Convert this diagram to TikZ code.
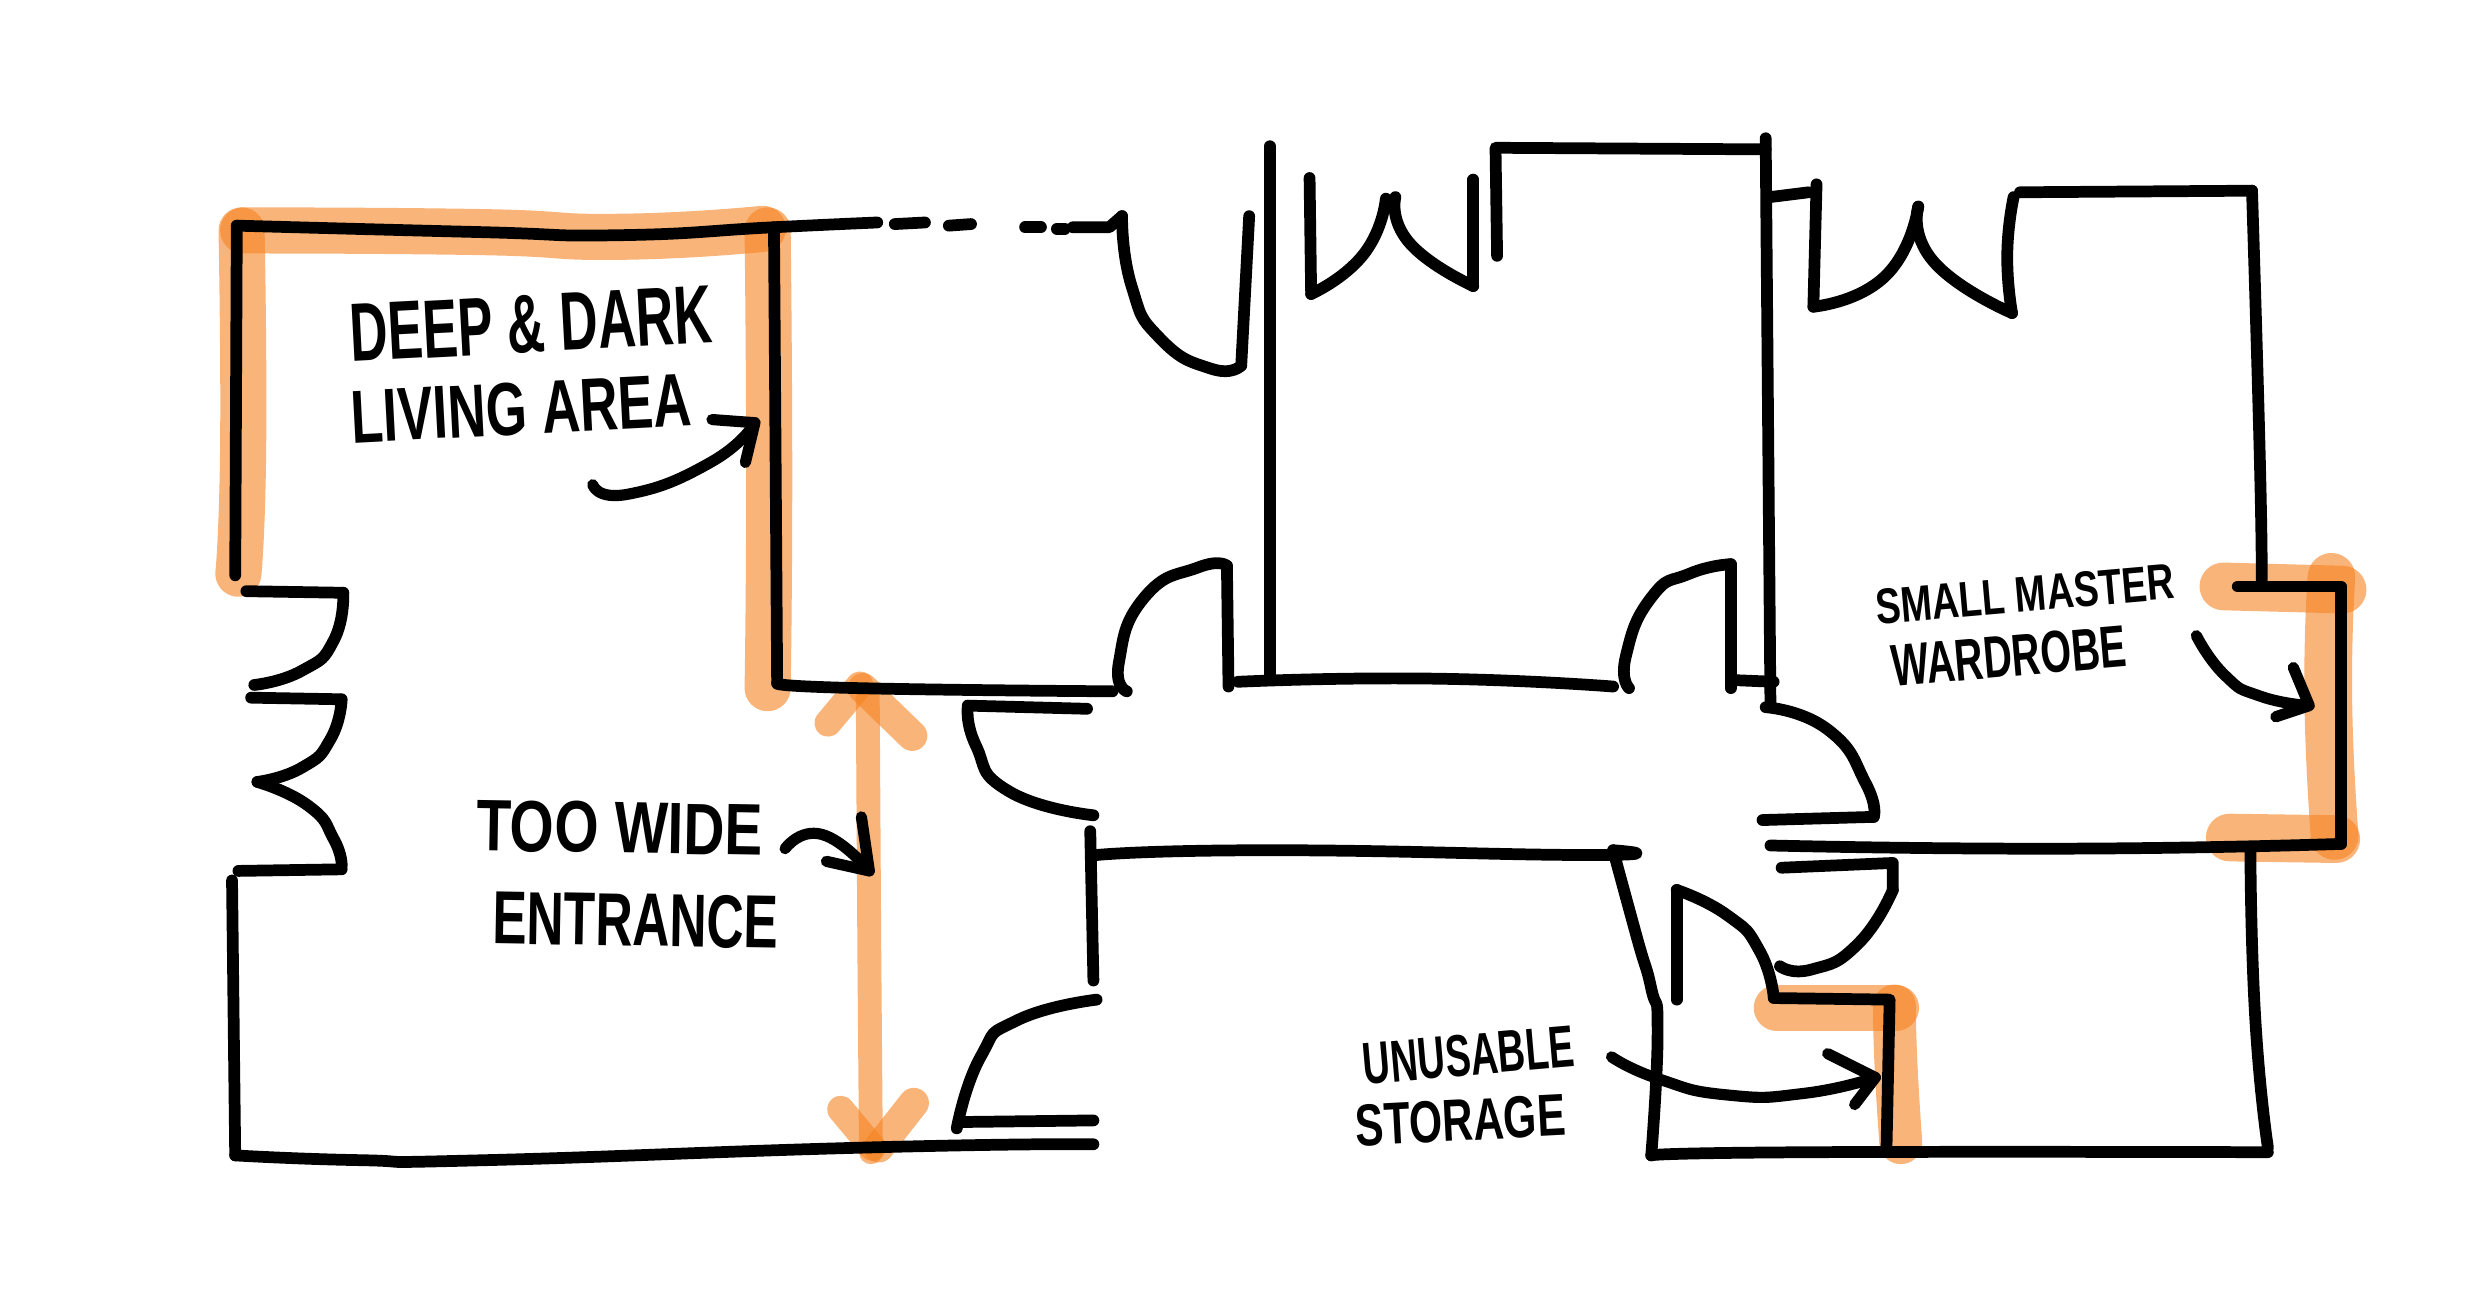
\documentclass[tikz,border=0pt]{standalone}
\usepackage{fontspec}
\usepackage{graphicx}
\setsansfont{Liberation Sans}
\definecolor{marker}{HTML}{F58220}
\newcommand{\scrawl}[3]{\resizebox{#1}{#2}{\sffamily\bfseries #3}}
\tikzset{
  wall/.style={line width=2.1pt,line cap=round,line join=round},
  pen/.style={line width=2pt,line cap=round,line join=round},
  hilite/.style={line width=.29cm,color=marker,opacity=.6,line cap=round,line join=round},
  thinhilite/.style={hilite,line width=.15cm},
  note/.style={inner sep=0pt},
}
\begin{document}
\begin{tikzpicture}[x=.01cm,y=-.01cm,tension=.95]
\useasboundingbox (0,0) rectangle (1568,825.5);
% marker strokes
\draw[hilite] plot[smooth] coordinates {(153,145) (300,146) (390,149) (480,144)};
\draw[hilite] plot[smooth] coordinates {(152,145) (153,280) (150,361)};
\draw[hilite] plot[smooth] coordinates {(483,145) (484,300) (483,433)};
\draw[hilite,line width=.3cm] (1399,369) -- (1474,371);
\draw[hilite,line width=.3cm] plot[smooth] coordinates {(1467,363) (1465,440) (1469,526)};
\draw[hilite,line width=.3cm] (1403,527) -- (1470,528);
\draw[hilite] (1118,634) -- (1193,634);
\draw[hilite,line width=.27cm] plot[smooth] coordinates {(1192,633) (1193,670) (1196,719)};
\draw[thinhilite] (546,437) -- (547,600) -- (548,725);
\draw[thinhilite,line width=.17cm] (521,455) -- (541,431);
\draw[thinhilite,line width=.19cm] (543,433) -- (574,463);
\draw[thinhilite,line width=.17cm] (529,698) -- (549,722);
\draw[thinhilite,line width=.19cm] (575,694) -- (553,722);
% left room and top wall
\draw[wall] (148,362) -- (149,142);
\draw[wall] plot[smooth] coordinates {(149,142) (300,146) (390,148) (487,143) (552,140)};
\draw[wall] (563,141) -- (582,140);
\draw[wall] (597,142) -- (611,141);
\draw[wall] (645,143) -- (655,143);
\draw[wall] (665,144) -- (670,144);
\draw[wall] (675,143) -- (698,143) -- (706,136);
\draw[wall] plot[smooth] coordinates {(706,136) (712,180) (730,213) (762,232) (781,230)};
\draw[wall] (781,230) -- (786,136);
\draw[wall] (487,143) -- (489,430);
\draw[wall] plot[smooth] coordinates {(489,430) (540,433) (700,435)};
% doors on the left side
\draw[wall] (155,372) -- (216,373);
\draw[wall] plot[smooth] coordinates {(216,373) (210,403) (190,422) (160,431)};
\draw[wall] (158,439) -- (214,440);
\draw[wall] plot[smooth] coordinates {(215,440) (208,465) (190,483) (162,492)};
\draw[wall] plot[smooth] coordinates {(162,492) (194,507) (210,528) (215,545)};
\draw[wall] (215,547) -- (150,548);
\draw[wall] (146,554) -- (148,727);
\draw[wall] plot[smooth] coordinates {(148,727) (226,730) (306,730) (547,722) (688,720)};
% entrance doors
\draw[wall] (609,444) -- (684,446);
\draw[wall] plot[smooth] coordinates {(609,444) (614,469) (635,498) (688,513)};
\draw[wall] (686,523) -- (688,617);
\draw[wall] plot[smooth] coordinates {(690,629) (640,642) (617,665) (602,710)};
\draw[wall] (605,706) -- (688,705);
% corridor
\draw[wall] plot[smooth] coordinates {(690,538) (800,535) (1000,538) (1015,535)};
\draw[wall] plot[smooth] coordinates {(1015,535) (1030,590) (1039,622) (1043,650) (1039,727)};
\draw[wall] plot[smooth] coordinates {(1039,727) (1140,725) (1427,725)};
\draw[wall] plot[smooth] coordinates {(1114,532) (1300,534) (1473,531)};
\draw[wall] plot[smooth] coordinates {(1416,535) (1419,640) (1427,722)};
% doors off the corridor
\draw[wall] plot[smooth] coordinates {(709,435) (704,417) (720,376) (754,357) (772,356)};
\draw[wall] (772,356) -- (773,432);
\draw[wall] plot[smooth] coordinates {(779,429) (900,427) (1015,432)};
\draw[wall] plot[smooth] coordinates {(1025,433) (1023,413) (1039,376) (1063,361) (1089,355)};
\draw[wall] (1089,355) -- (1089,433);
\draw[wall] (1092,428) -- (1116,429);
% middle rooms
\draw[wall] (799,92) -- (799,425);
\draw[wall] (824,112) -- (825,185);
\draw[wall] plot[smooth] coordinates {(825,185) (858,160) (872,125)};
\draw[wall] plot[smooth] coordinates {(878,124) (887,153) (927,180)};
\draw[wall] (927,180) -- (927,113);
\draw[wall] (942,161) -- (941,93) -- (1111,94);
\draw[wall] (1111,87) -- (1114,444);
\draw[wall] (1114,124) -- (1138,121);
\draw[wall] (1143,116) -- (1141,193);
\draw[wall] plot[smooth] coordinates {(1141,193) (1186,174) (1207,130)};
\draw[wall] plot[smooth] coordinates {(1207,130) (1217,165) (1266,197)};
\draw[wall] plot[smooth] coordinates {(1266,197) (1263,160) (1267,124)};
% right room
\draw[wall] (1271,121) -- (1417,120);
\draw[wall] plot[smooth] coordinates {(1417,120) (1422,292) (1423,367)};
\draw[wall] (1408,369) -- (1473,369) -- (1473,531);
\draw[wall] plot[smooth] coordinates {(1111,445) (1150,459) (1174,493) (1179,514)};
\draw[wall] (1179,514) -- (1109,516);
\draw[wall] (1121,546) -- (1191,543) -- (1191,560);
\draw[wall] plot[smooth] coordinates {(1191,560) (1169,594) (1140,610) (1120,608)};
% storage
\draw[wall] (1055,629) -- (1055,560);
\draw[wall] plot[smooth] coordinates {(1055,560) (1087,576) (1107,598) (1116,627)};
\draw[wall] (1116,628) -- (1189,629) -- (1187,723);
% notes
\node[note,rotate=3] (deep) at (334,204) {\scrawl{2.28cm}{.36cm}{DEEP \& DARK}};
\node[note,rotate=3] (living) at (328,257) {\scrawl{2.14cm}{.33cm}{LIVING AREA}};
\node[note,rotate=-1] (toowide) at (390,521) {\scrawl{1.8cm}{.32cm}{TOO WIDE}};
\node[note,rotate=-1] (entrance) at (400,579) {\scrawl{1.8cm}{.33cm}{ENTRANCE}};
\node[note,rotate=5] (small) at (1274,374) {\scrawl{1.88cm}{.22cm}{SMALL MASTER}};
\node[note,rotate=5] (wardrobe) at (1264,413) {\scrawl{1.48cm}{.26cm}{WARDROBE}};
\node[note,rotate=5] (unusable) at (924,664) {\scrawl{1.33cm}{.26cm}{UNUSABLE}};
\node[note,rotate=3] (storage) at (919,705) {\scrawl{1.32cm}{.26cm}{STORAGE}};
% arrows
\draw[pen] plot[smooth] coordinates {(373,305) (395,311) (447,291) (475,266)};
\draw[pen] (448,264) -- (475,266) -- (469,291);
\draw[pen] plot[smooth] coordinates {(494,534) (517,525) (547,548)};
\draw[pen] (542,514) -- (547,548) -- (520,542);
\draw[pen] plot[smooth] coordinates {(1382,400) (1400,425) (1422,438) (1453,444)};
\draw[pen] (1443,420) -- (1453,444) -- (1432,451);
\draw[pen] plot[smooth] coordinates {(1014,665) (1044,679) (1087,689) (1135,688) (1180,678)};
\draw[pen] (1150,663) -- (1180,678) -- (1167,695);
\end{tikzpicture}
\end{document}
